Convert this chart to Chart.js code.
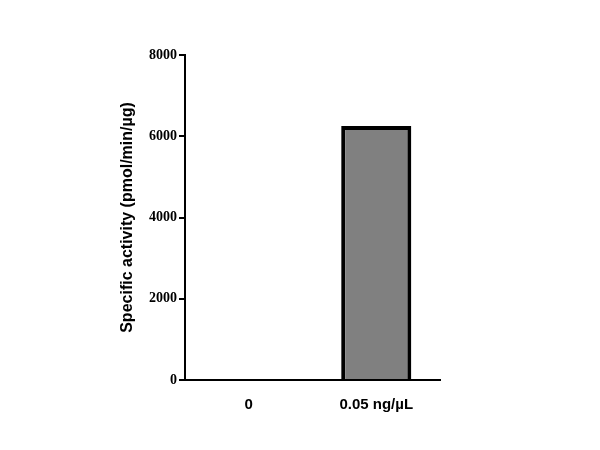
<!DOCTYPE html>
<html>
<head>
<meta charset="utf-8">
<script src="https://cdn.jsdelivr.net/npm/chart.js@4"></script>
<style>html,body{margin:0;padding:0;background:#fff}</style>
</head>
<body>
<canvas id="c" width="600" height="450"></canvas>
<script>
// ── Data ──────────────────────────────────────────────────────────────
const categories = ['0', '0.05 ng/µL'];
const activity   = [0, 6250];
const yTicks     = [0, 2000, 4000, 6000, 8000];

const axisGrid = { drawOnChartArea: false, drawTicks: true, tickLength: 6, color: '#000', lineWidth: 2 };

new Chart(document.getElementById('c'), {
  type: 'bar',
  data: { labels: categories, datasets: [{
    data: activity, backgroundColor: '#808080', borderColor: '#000',
    borderWidth: 4, borderSkipped: 'bottom', barPercentage: 0.55, categoryPercentage: 1,
  }]},
  options: {
    responsive: false, animation: false,
    layout: { padding: { top: 55, right: 160, left: 118, bottom: 0 } },
    plugins: { legend: { display: false }, tooltip: { enabled: false } },
    scales: {
      x: {
        grid: { display: false },
        border: { color: '#000', width: 2 },
        ticks: { color: '#000', font: { family: 'Liberation Sans', weight: 'bold', size: 15 }, padding: 8 },
        afterFit: s => { s.height = 70; },
      },
      y: {
        min: 0, max: 8000,
        afterBuildTicks: s => { s.ticks = yTicks.map(v => ({ value: v })); },
        grid: axisGrid,
        border: { color: '#000', width: 2 },
        ticks: { color: '#000', font: { family: 'Liberation Serif', weight: 'bold', size: 14 }, padding: 2,
          callback: v => String(v) },
        title: { display: true, text: 'Specific activity (pmol/min/µg)', color: '#000',
          font: { family: 'Liberation Sans', weight: 'bold', size: 16 }, padding: 0 },
        afterFit: s => { s.width = 67; },
      },
    },
  },
});
</script>
</body>
</html>
